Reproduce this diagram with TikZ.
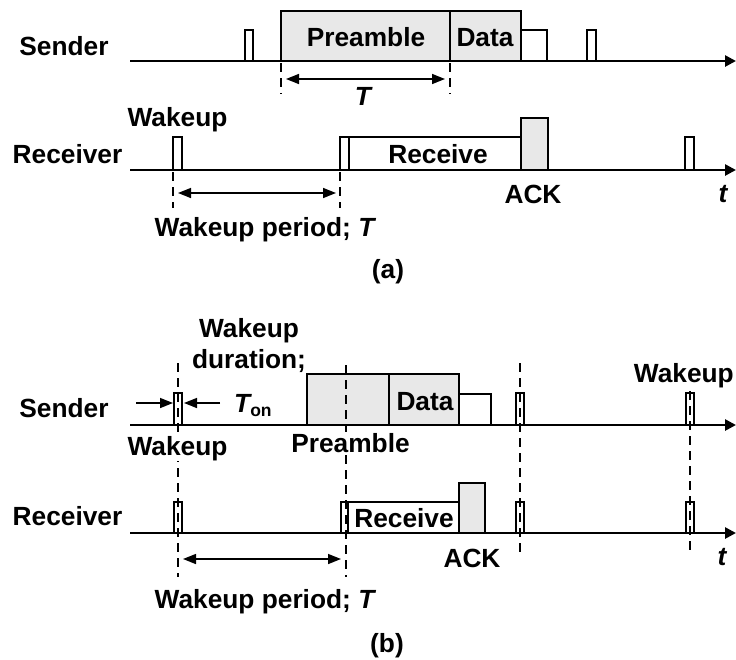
\documentclass[tikz,border=0pt]{standalone}
\usepackage{fontspec}
\setmainfont{Liberation Sans}
\usetikzlibrary{arrows.meta}
\definecolor{boxgray}{gray}{0.91}
\begin{document}
\begin{tikzpicture}[x=1pt,y=-1pt,line join=miter,
  lbl/.style={font=\fontsize{26.3}{30}\selectfont\bfseries,inner sep=0pt,anchor=base},
  lblw/.style={lbl,fill=white,inner sep=1pt},
  axis/.style={line width=2.6pt,-{Triangle[length=11pt,width=11pt]}},
  pulse/.style={draw,line width=2.2pt,fill=white},
  gbox/.style={draw,line width=2.2pt,fill=boxgray},
  dsh/.style={line width=2.2pt,dash pattern=on 9pt off 6pt},
  dimarrow/.style={line width=1.5pt,{Triangle[length=13pt,width=10pt]}-{Triangle[length=13pt,width=10pt]}},
  onearrow/.style={line width=1.5pt,-{Triangle[length=13pt,width=10pt]}}]
\useasboundingbox (0,0) rectangle (736,659);

% ================= (a) =================
% Sender
\draw[gbox] (281,61) rectangle (450,11);
\draw[gbox] (450,61) rectangle (521,11);
\draw[pulse] (521,61) rectangle (547,30);
\draw[pulse] (245,61) rectangle (253,30);
\draw[pulse] (587,61) rectangle (596,30);
\coordinate (sa0) at (130,61); \coordinate (sa1) at (736,61);
\draw[axis] (sa0) -- (sa1);
\node[lbl] (senderA) at (64,55) {Sender};
\node[lbl] (preA) at (366,46) {Preamble};
\node[lbl] (dataA) at (485,46) {Data};
\draw[dsh] (281,63) -- (281,94);
\draw[dsh] (450,63) -- (450,94);
\coordinate (ta0) at (286,79); \coordinate (ta1) at (445,79);
\draw[dimarrow] (ta0) -- (ta1);
\node[lbl] (TA) at (363,105) {\itshape T};

% Receiver
\draw[pulse] (173,170) rectangle (182,137);
\draw[pulse] (340,170) rectangle (349,137);
\draw[pulse] (349,170) rectangle (521,137);
\draw[gbox] (521,170) rectangle (548,118);
\draw[pulse] (685,170) rectangle (694,137);
\coordinate (ra0) at (130,170); \coordinate (ra1) at (736,170);
\draw[axis] (ra0) -- (ra1);
\node[lbl] (receiverA) at (67.5,163) {Receiver};
\node[lbl] (wakeA) at (177.5,126) {Wakeup};
\node[lbl] (recvA) at (438,163) {Receive};
\node[lbl] (ackA) at (533,203) {ACK};
\node[lbl] (tA) at (723,202) {\itshape t};
\draw[dsh] (173,172) -- (173,208);
\draw[dsh] (340,172) -- (340,208);
\coordinate (pa0) at (178,193); \coordinate (pa1) at (336,193);
\draw[dimarrow] (pa0) -- (pa1);
\node[lbl] (perA) at (264.5,236) {Wakeup period; \itshape T};
\node[lbl] (capA) at (388,278) {(a)};

% ================= (b) =================
% Sender
\draw[gbox] (307,425) rectangle (389,374);
\draw[gbox] (389,425) rectangle (459,374);
\draw[pulse] (459,425) rectangle (491,394);
\draw[pulse] (174,425) rectangle (182,393);
\draw[pulse] (516,425) rectangle (524,393);
\draw[pulse] (686,425) rectangle (694,393);
% Receiver
\draw[pulse] (174,533) rectangle (182,502);
\draw[pulse] (341,533) rectangle (348,502);
\draw[pulse] (348,533) rectangle (459,502);
\draw[gbox] (459,533) rectangle (485,483);
\draw[pulse] (516,533) rectangle (524,502);
\draw[pulse] (686,533) rectangle (694,502);
% dashed guides
\draw[dsh] (178,363) -- (178,577);
\draw[dsh] (346,365) -- (346,577);
\draw[dsh] (520,363) -- (520,555);
\draw[dsh] (690,391) -- (690,555);
% axes
\coordinate (sb0) at (130,425); \coordinate (sb1) at (736,425);
\draw[axis] (sb0) -- (sb1);
\coordinate (rb0) at (130,533); \coordinate (rb1) at (736,533);
\draw[axis] (rb0) -- (rb1);
% labels
\node[lbl] (senderB) at (64,417) {Sender};
\node[lbl] (receiverB) at (67.5,525) {Receiver};
\node[lbl] (durB1) at (249,337) {Wakeup};
\node[lbl] (durB2) at (249,368) {duration;};
\node[lbl,anchor=base west] (tonB) at (234,412) {\itshape T\upshape\raisebox{-4pt}{\fontsize{17.5}{20}\selectfont on}};
\coordinate (on0) at (136,403); \coordinate (on1) at (173,403);
\draw[onearrow] (on0) -- (on1);
\coordinate (on2) at (220,403); \coordinate (on3) at (184,403);
\draw[onearrow] (on2) -- (on3);
\node[lblw] (wakeB) at (177.5,455) {Wakeup};
\node[lblw] (preB) at (350.5,452) {Preamble};
\node[lbl] (dataB) at (425,410) {Data};
\node[lbl,anchor=base east] (wakeB2) at (734,382) {Wakeup};
\node[lbl] (recvB) at (404,527) {Receive};
\node[lbl] (ackB) at (472,567) {ACK};
\node[lbl] (tB) at (722,565) {\itshape t};
\coordinate (pb0) at (183,559); \coordinate (pb1) at (341,559);
\draw[dimarrow] (pb0) -- (pb1);
\node[lbl] (perB) at (264.5,608) {Wakeup period; \itshape T};
\node[lbl] (capB) at (387,652) {(b)};
\end{tikzpicture}
\end{document}
